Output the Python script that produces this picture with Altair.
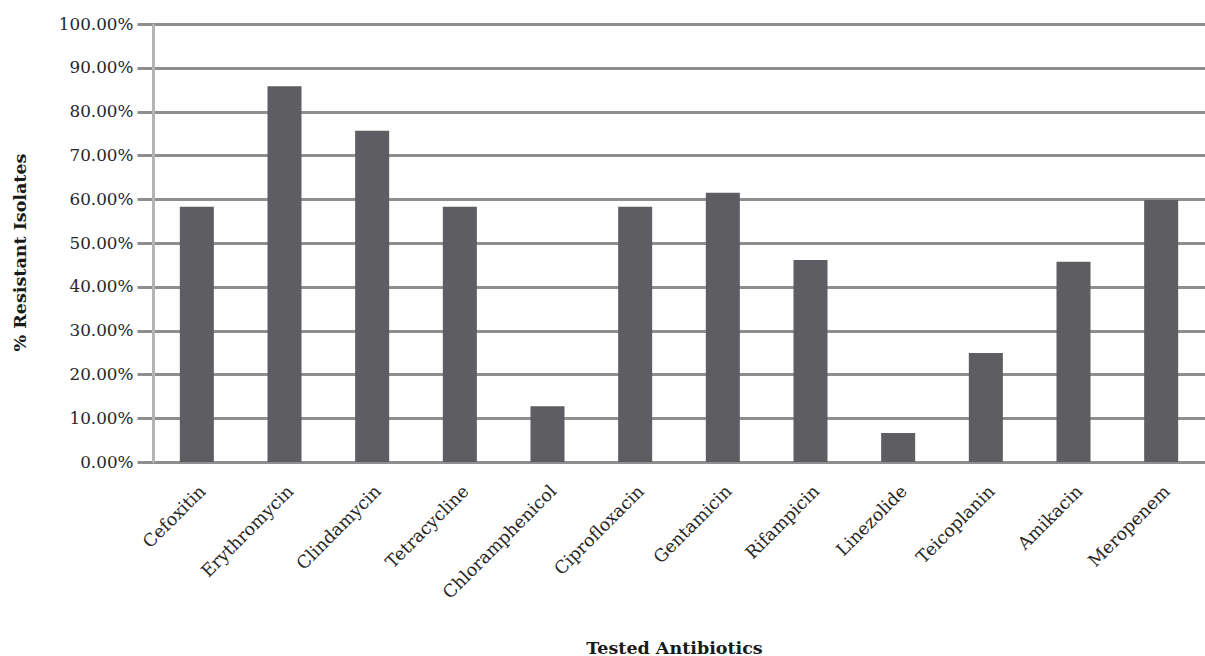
import altair as alt
import pandas as pd

antibiotics = ["Cefoxitin", "Erythromycin", "Clindamycin", "Tetracycline",
               "Chloramphenicol", "Ciprofloxacin", "Gentamicin", "Rifampicin",
               "Linezolide", "Teicoplanin", "Amikacin", "Meropenem"]
resistant = [0.583, 0.858, 0.756, 0.583, 0.127, 0.583, 0.615, 0.461,
             0.066, 0.249, 0.457, 0.598]
y_ticks = [0, 0.1, 0.2, 0.3, 0.4, 0.5, 0.6, 0.7, 0.8, 0.9, 1.0]

df = pd.DataFrame({"Antibiotic": antibiotics, "Resistant": resistant})

FONT = "DejaVu Serif"
GRID = "#8e8e8e"

chart = alt.Chart(df).mark_bar(color="#5e5e62").encode(
    x=alt.X("Antibiotic:N", sort=antibiotics,
            scale=alt.Scale(paddingInner=0.612, paddingOuter=0.306),
            axis=alt.Axis(title="Tested Antibiotics", labelAngle=-45,
                          labelAlign="right", labelBaseline="top",
                          labelPadding=20, ticks=False, domain=False,
                          labelFont=FONT, labelFontSize=17.5, labelColor="#262626",
                          titleFont=FONT, titleFontSize=17.5, titleFontWeight="bold",
                          titleColor="#1a1a1a", titleX=521, titleY=186,
                          titleBaseline="middle", grid=False)),
    y=alt.Y("Resistant:Q", scale=alt.Scale(domain=[0, 1], nice=False),
            axis=alt.Axis(title="% Resistant Isolates", values=y_ticks, format=".2%",
                          labelFont=FONT, labelFontSize=16.8, labelColor="#262626",
                          labelPadding=4, tickSize=16, tickColor=GRID, tickWidth=3,
                          domain=True, domainColor="#b4b4b4", domainWidth=3,
                          grid=True, gridColor=GRID, gridWidth=3,
                          titleFont=FONT, titleFontSize=17.5, titleFontWeight="bold",
                          titleColor="#1a1a1a", titleX=-133, titleY=228,
                          titleBaseline="middle", titleAngle=-90)),
).properties(
    width=1052,
    height=438,
    autosize=alt.AutoSizeParams(type="none"),
    padding={"left": 153, "top": 24, "right": 0, "bottom": 194},
    background="white",
).configure_view(stroke=None)

chart.save("out.html", embed_options={"renderer": "svg", "actions": False})
